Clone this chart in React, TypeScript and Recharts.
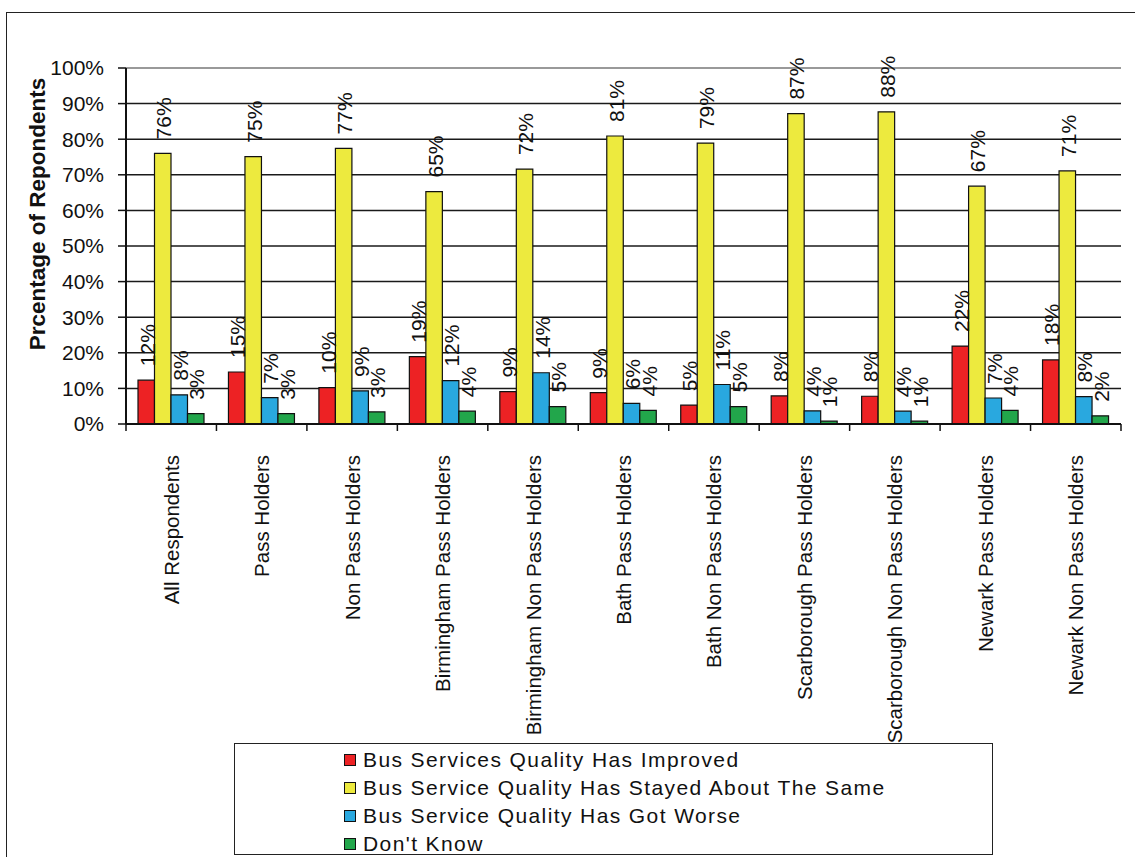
import React from "react";
import { BarChart, Bar, XAxis, YAxis, CartesianGrid, ReferenceLine, LabelList } from "recharts";

const categories = [
  "All Respondents",
  "Pass Holders",
  "Non Pass Holders",
  "Birmingham Pass Holders",
  "Birmingham Non Pass Holders",
  "Bath Pass Holders",
  "Bath Non Pass Holders",
  "Scarborough Pass Holders",
  "Scarborough Non Pass Holders",
  "Newark Pass Holders",
  "Newark Non Pass Holders",
];
const improved = [12.3, 14.6, 10.2, 18.9, 9.1, 8.8, 5.3, 7.9, 7.8, 21.9, 18.0];
const same = [76.0, 75.1, 77.4, 65.3, 71.6, 80.9, 78.9, 87.2, 87.7, 66.8, 71.1];
const worse = [8.2, 7.4, 9.3, 12.2, 14.4, 5.8, 11.1, 3.7, 3.6, 7.3, 7.7];
const dontKnow = [2.9, 2.9, 3.4, 3.6, 4.9, 3.8, 4.9, 0.8, 0.8, 3.8, 2.3];
const yTicks = [0, 10, 20, 30, 40, 50, 60, 70, 80, 90, 100];

const series = [
  { key: "improved", name: "Bus Services Quality Has Improved", color: "#ED2224" },
  { key: "same", name: "Bus Service Quality Has Stayed About The Same", color: "#EDEA3E" },
  { key: "worse", name: "Bus Service Quality Has Got Worse", color: "#29A8DF" },
  { key: "dontKnow", name: "Don't Know", color: "#22A64B" },
];

const data = categories.map((c, i) => ({
  name: c,
  improved: improved[i],
  same: same[i],
  worse: worse[i],
  dontKnow: dontKnow[i],
}));

const FONT = "Arial, 'Liberation Sans', Helvetica, sans-serif";
const PLOT_LEFT = 126;
const PLOT_RIGHT = 1121;
const BAND = (PLOT_RIGHT - PLOT_LEFT) / categories.length;

const BarLabel = (props: any) => {
  const { x, y, width, value } = props;
  const cx = x + width / 2 + 1;
  const ty = y - 14;
  return (
    <text
      x={cx}
      y={ty}
      transform={`rotate(-90, ${cx}, ${ty})`}
      textAnchor="start"
      dominantBaseline="central"
      fontSize={21}
      fontFamily={FONT}
      fill="#111"
    >
      {Math.round(value)}%
    </text>
  );
};

const CategoryTick = (props: any) => {
  const { x, y, payload, index } = props;
  const ty = y + 23;
  return (
    <g>
      <line x1={x - BAND / 2} x2={x - BAND / 2} y1={y - 8} y2={y - 1} stroke="#111" strokeWidth={1.5} />
      {index === categories.length - 1 && (
        <line x1={x + BAND / 2} x2={x + BAND / 2} y1={y - 8} y2={y - 1} stroke="#111" strokeWidth={1.5} />
      )}
      <text
        x={x}
        y={ty}
        transform={`rotate(-90, ${x}, ${ty})`}
        textAnchor="end"
        dominantBaseline="central"
        fontSize={20.5}
        fontFamily={FONT}
        fill="#111"
      >
        {payload.value}
      </text>
    </g>
  );
};

export default function App() {
  return (
    <div style={{ position: "fixed", left: 0, top: 0, width: 1135, height: 857, background: "#fff", overflow: "hidden" }}>
      <div
        style={{
          position: "absolute",
          left: 6,
          top: 12,
          width: 1300,
          height: 1000,
          border: "1.5px solid #222",
        }}
      />
      <div style={{ position: "absolute", left: 0, top: 0 }}>
        <BarChart
          width={1135}
          height={857}
          data={data}
          margin={{ top: 68, right: 14, left: 46, bottom: 113 }}
          barSize={16.5}
          barGap={0}
        >
          <CartesianGrid vertical={false} stroke="#1a1a1a" strokeWidth={1.5} />
          <XAxis
            dataKey="name"
            height={320}
            interval={0}
            tick={<CategoryTick />}
            tickLine={false}
            axisLine={{ stroke: "#111", strokeWidth: 2 }}
          />
          <YAxis
            width={80}
            domain={[0, 100]}
            ticks={yTicks}
            interval={0}
            tickFormatter={(v: number) => `${v}%`}
            tickSize={8}
            tickMargin={14}
            tickLine={{ stroke: "#111", strokeWidth: 1.5 }}
            axisLine={{ stroke: "#111", strokeWidth: 2 }}
            tick={{ fontSize: 21, fontFamily: FONT, fill: "#111" }}
            label={{
              content: () => (
                <text
                  x={37}
                  y={214}
                  transform="rotate(-90, 37, 214)"
                  textAnchor="middle"
                  dominantBaseline="central"
                  fontSize={22.5}
                  fontWeight="bold"
                  fontFamily={FONT}
                  fill="#111"
                >
                  Prcentage of Repondents
                </text>
              ),
            }}
          />
          <YAxis
            yAxisId="right"
            orientation="right"
            width={0}
            domain={[0, 100]}
            tick={false}
            tickLine={false}
            axisLine={{ stroke: "#999", strokeWidth: 2 }}
          />
          <ReferenceLine y={100} stroke="#999" strokeWidth={2} />
          {series.map((s) => (
            <Bar
              key={s.key}
              dataKey={s.key}
              name={s.name}
              fill={s.color}
              stroke="#111"
              strokeWidth={1.2}
              isAnimationActive={false}
            >
              <LabelList dataKey={s.key} content={<BarLabel />} />
            </Bar>
          ))}
        </BarChart>
      </div>
      <div
        style={{
          position: "absolute",
          left: 234,
          top: 743,
          width: 759,
          height: 112,
          border: "1.5px solid #222",
          boxSizing: "border-box",
          fontFamily: FONT,
          fontSize: 21,
          color: "#111",
        }}
      >
        {series.map((s, i) => (
          <div
            key={s.key}
            style={{
              position: "absolute",
              left: 109,
              top: 2 + i * 28,
              height: 28,
              display: "flex",
              alignItems: "center",
              whiteSpace: "nowrap",
            }}
          >
            <span
              style={{
                display: "inline-block",
                width: 10,
                height: 10,
                background: s.color,
                border: "1.5px solid #111",
                marginRight: 7,
              }}
            />
            <span style={{ letterSpacing: 1.4 }}>{s.name}</span>
          </div>
        ))}
      </div>
    </div>
  );
}
